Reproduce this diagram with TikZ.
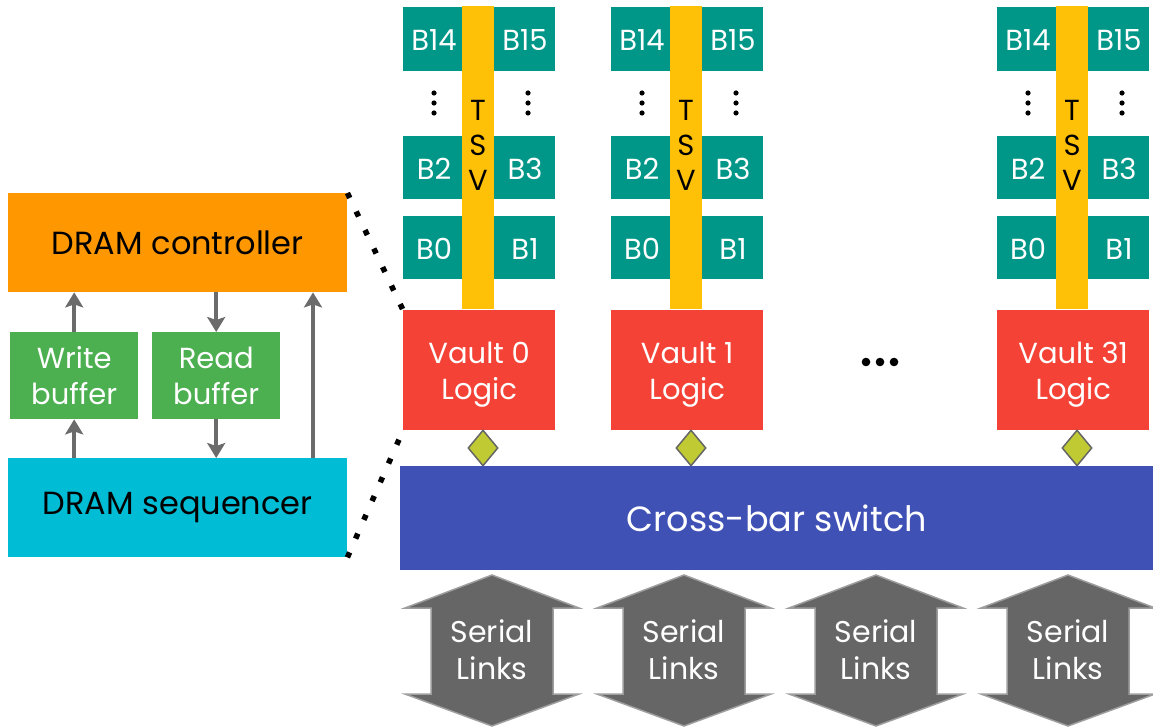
\documentclass[tikz,border=0pt]{standalone}
\usepackage{fontspec}
\setmainfont{Poppins}
\usetikzlibrary{arrows.meta,shapes.geometric,calc}

\definecolor{ctrlorange}{HTML}{FF9800}
\definecolor{bufgreen}{HTML}{4CAF50}
\definecolor{seqcyan}{HTML}{00BCD4}
\definecolor{bankteal}{HTML}{009688}
\definecolor{tsvyellow}{HTML}{FFC107}
\definecolor{logicred}{HTML}{F44336}
\definecolor{xbarblue}{HTML}{3F51B5}
\definecolor{portlime}{HTML}{C0CA33}
\definecolor{linkgray}{HTML}{666666}
\definecolor{linkedge}{HTML}{9E9E9E}
\definecolor{arrowgray}{HTML}{6B6B6B}

\tikzset{
  block/.style={draw=none, inner sep=0pt, anchor=north west, align=center},
  bigtext/.style={font=\fontsize{32}{36}\selectfont},
  midtext/.style={font=\fontsize{29}{36}\selectfont},
  banktext/.style={font=\fontsize{29}{30}\selectfont, text=white},
  flow/.style={draw=arrowgray, line width=4pt, -{Stealth[length=15pt, width=18pt, inset=3pt]}},
  zoomline/.style={draw=black, line width=5.5pt, dash pattern=on 5.5pt off 15pt},
  port/.style={diamond, draw=linkgray, line width=1.5pt, fill=portlime, minimum width=30pt, minimum height=36pt, inner sep=0pt},
  serial/.style={fill=linkgray, draw=linkedge, line width=1.5pt, line join=miter},
}

\begin{document}
\begin{tikzpicture}[x=1pt, y=-1pt]
\useasboundingbox (0,0) rectangle (1153,727);

% ---- memory controller side ----
\node[block, fill=ctrlorange, minimum width=339pt, minimum height=99pt, bigtext] (ctrl) at (8,193) {DRAM controller};
\node[block, fill=bufgreen, minimum width=128pt, minimum height=87pt, midtext, text=white] (wb) at (10,332) {Write\\buffer};
\node[block, fill=bufgreen, minimum width=128pt, minimum height=87pt, midtext, text=white] (rb) at (152,332) {Read\\buffer};
\node[block, fill=seqcyan, minimum width=339pt, minimum height=99pt, bigtext] (seq) at (8,458) {DRAM sequencer};

\coordinate (bypass) at (313,0);
\draw[flow] (wb.north) -- (wb.north |- ctrl.south);
\draw[flow] (seq.north -| wb.south) -- (wb.south);
\draw[flow] (ctrl.south -| rb.north) -- (rb.north);
\draw[flow] (rb.south) -- (rb.south |- seq.north);
\draw[flow] (seq.north -| bypass) -- (ctrl.south -| bypass);

% ---- vaults ----
\foreach \L/\n in {403/0, 611/1, 997/31} {
  \node[block, fill=bankteal, minimum width=60pt, minimum height=64pt] (b14v\n) at (\L,7) {};
  \node[block, fill=bankteal, minimum width=61pt, minimum height=64pt] (b15v\n) at (\L+91,7) {};
  \node[block, fill=bankteal, minimum width=60pt, minimum height=63pt] (b2v\n) at (\L,136) {};
  \node[block, fill=bankteal, minimum width=61pt, minimum height=63pt] (b3v\n) at (\L+91,136) {};
  \node[block, fill=bankteal, minimum width=60pt, minimum height=63pt] (b0v\n) at (\L,216) {};
  \node[block, fill=bankteal, minimum width=61pt, minimum height=63pt] (b1v\n) at (\L+91,216) {};
  \node[banktext] (l14v\n) at (\L+31,40) {B14};
  \node[banktext] (l15v\n) at (\L+122,40) {B15};
  \node[banktext] (l2v\n) at (\L+31,169) {B2};
  \node[banktext] (l3v\n) at (\L+122,169) {B3};
  \node[banktext] (l0v\n) at (\L+31,249) {B0};
  \node[banktext] (l1v\n) at (\L+122,249) {B1};
  \foreach \yy in {93,103,113} {
    \fill (\L+31,\yy) circle (2.6pt);
    \fill (\L+125,\yy) circle (2.6pt);
  }
  \node[block, fill=tsvyellow, minimum width=32pt, minimum height=303pt] (tsv\n) at (\L+59,6) {};
  \node[font=\fontsize{29}{35}\selectfont, align=center, inner sep=0pt] (tsvl\n) at (\L+75,145) {T\\S\\V};
  \node[block, fill=logicred, minimum width=152pt, minimum height=120pt,
        label={[midtext, text=white, align=center, yshift=-4pt]center:Vault \n\\Logic}] (logic\n) at (\L,310) {};
  \node[port] (port\n) at (\L+80,448) {};
}

\foreach \xx in {866,880,894} \fill (\xx,362) circle (4.3pt);

% ---- zoom-in marks ----
\draw[zoomline] (ctrl.north east) -- (logic0.north west);
\draw[zoomline] (seq.south east) -- (logic0.south west);

% ---- cross-bar ----
\node[block, fill=xbarblue, minimum width=753pt, minimum height=104pt, font=\fontsize{35}{40}\selectfont, text=white] (xbar) at (400,466) {Cross-bar switch};

% ---- serial links ----
\foreach \cx/\i in {492/1, 684/2, 876/3, 1068/4} {
  \draw[serial] (\cx,575) -- (\cx+87,608) -- (\cx+61,608) -- (\cx+61,694) -- (\cx+87,694)
    -- (\cx,726) -- (\cx-87,694) -- (\cx-61,694) -- (\cx-61,608) -- (\cx-87,608) -- cycle;
  \node[font=\fontsize{30}{37}\selectfont, text=white, align=center, inner sep=0pt] (link\i) at (\cx,650) {Serial\\Links};
}
\end{tikzpicture}
\end{document}
